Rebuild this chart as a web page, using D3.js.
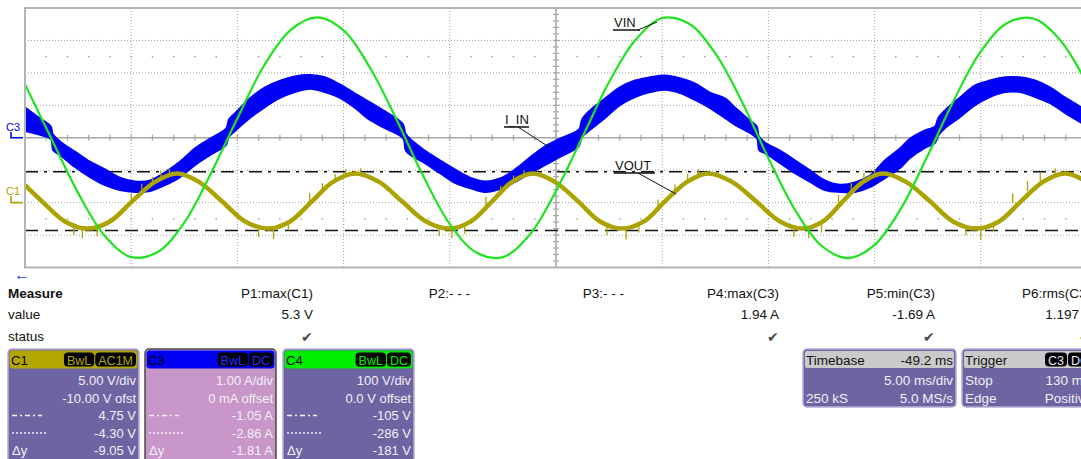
<!DOCTYPE html>
<html>
<head>
<meta charset="utf-8">
<script src="https://cdn.jsdelivr.net/npm/d3@7"></script>
<style>
body{margin:0;background:#fff;overflow:hidden}
text{font-family:"Liberation Sans",Arial,sans-serif}
</style>
</head>
<body>
<script>
// C4 = VIN (V), time in ms, 5 ms/div
var vinPts=[[-25,165],[-23.75,-4],[-22.5,-170],[-21.25,-302],[-20,-368],[-18.75,-352],[-17.5,-262],[-16.25,-110],
  [-15,60],[-13.75,222],[-12.5,332],[-11.25,371],[-10,331],[-8.75,215],[-7.5,55],[-6.25,-118],[-5,-266],
  [-3.75,-354],[-2.5,-368],[-1.25,-300],[0,-164],[1.25,3],[2.5,172],[3.75,302],[5,369],[6.25,352],[7.5,260],
  [8.75,112],[10,-63],[11.25,-222],[12.5,-333],[13.75,-371],[15,-330],[16.25,-217],[17.5,-55],[18.75,118],
  [20,266],[21.25,354],[22.5,367],[23.75,300],[25,166]];
// C3 = I_IN band: [t, upper A, lower A]
var iinPts=[[-25.00,0.94,0.20],[-24.29,0.60,0.08],[-23.78,0.35,-0.05],[-23.68,0.11,-0.39],[-23.35,-0.11,-0.54],
  [-22.65,-0.42,-0.91],[-21.94,-0.73,-1.22],[-21.23,-0.97,-1.47],[-20.53,-1.22,-1.62],[-19.82,-1.34,-1.68],
  [-19.11,-1.31,-1.65],[-18.41,-1.06,-1.47],[-17.70,-0.73,-1.22],[-17.00,-0.32,-0.85],[-16.29,-0.02,-0.54],
  [-15.54,0.29,-0.23],[-15.40,0.57,0.02],[-15.11,0.76,0.20],[-14.41,1.22,0.60],[-13.70,1.56,0.94],
  [-12.99,1.77,1.22],[-12.29,1.90,1.40],[-11.58,1.94,1.50],[-10.88,1.87,1.40],[-10.17,1.65,1.22],
  [-9.46,1.37,0.91],[-8.76,1.10,0.54],[-8.05,0.82,0.29],[-7.20,0.42,-0.02],[-7.06,0.11,-0.42],
  [-6.17,-0.39,-0.79],[-5.46,-0.69,-1.10],[-4.76,-0.97,-1.40],[-4.05,-1.22,-1.56],[-3.34,-1.34,-1.68],
  [-2.64,-1.25,-1.59],[-1.93,-0.97,-1.37],[-1.22,-0.60,-1.10],[-0.52,-0.26,-0.85],[0.19,-0.02,-0.60],
  [1.08,0.26,-0.26],[1.22,0.57,0.02],[1.60,0.85,0.23],[2.31,1.22,0.60],[3.01,1.56,1.00],[3.72,1.77,1.25],
  [4.43,1.87,1.40],[5.13,1.93,1.47],[5.84,1.84,1.37],[6.54,1.68,1.16],[7.25,1.40,0.91],[7.96,1.22,0.60],
  [8.43,0.94,0.39],[9.13,0.54,0.14],[9.46,0.35,-0.02],[9.56,0.05,-0.39],[9.84,-0.14,-0.48],[10.55,-0.39,-0.79],
  [11.25,-0.69,-1.10],[11.96,-1.00,-1.37],[12.66,-1.31,-1.62],[13.37,-1.44,-1.68],[14.08,-1.37,-1.68],
  [14.78,-1.16,-1.53],[15.49,-0.69,-1.25],[16.20,-0.32,-0.94],[16.67,-0.02,-0.63],[17.37,0.23,-0.32],
  [17.84,0.35,-0.17],[17.98,0.60,0.05],[18.31,0.85,0.29],[19.02,1.25,0.63],[19.73,1.62,1.00],
  [20.43,1.77,1.25],[21.14,1.87,1.40],[21.85,1.87,1.40],[22.55,1.77,1.25],[23.26,1.56,1.06],
  [23.96,1.25,0.76],[25.00,0.85,0.35]];
// C1 = VOUT (V)
var voutPts=[[-25.00,2.7],[-24.20,0.2],[-23.12,-2.9],[-22.08,-4.0],[-21.00,-2.9],[-19.96,0.2],[-18.88,3.2],
  [-17.84,4.5],[-16.81,3.2],[-15.73,0.2],[-14.64,-2.9],[-13.56,-4.0],[-12.52,-2.9],[-11.49,0.2],[-10.50,3.2],
  [-9.46,4.5],[-8.33,3.2],[-7.25,0.2],[-6.12,-2.9],[-4.99,-4.0],[-4.00,-2.9],[-3.01,0.2],[-2.07,3.2],
  [-1.08,4.5],[-0.05,3.2],[1.04,0.2],[2.07,-2.9],[3.11,-4.0],[4.14,-2.9],[5.13,0.2],[6.17,3.2],[7.16,4.5],
  [8.29,3.2],[9.42,0.2],[10.55,-2.9],[11.63,-4.0],[12.57,-2.9],[13.51,0.2],[14.45,3.2],[15.40,4.5],
  [16.48,3.2],[17.61,0.2],[18.69,-2.9],[19.82,-4.0],[20.86,-2.9],[21.89,0.2],[22.93,3.2],[23.96,4.5],[25.00,3.2]];
// noise spikes on C1: [t, top V, bottom V]
var voutSpikes=[[-22.7,-3.4,-5.0],[-22.3,-3.7,-5.5],[-21.6,-3.6,-5.2],[-20.0,1.4,0.0],[-19.5,2.9,1.3],[-19.0,4.0,2.6],[-18.6,4.9,3.5],[-18.2,5.2,4.0],
  [-14.0,-3.6,-5.3],[-13.3,-3.7,-5.6],[-12.6,-2.8,-4.3],[-11.6,1.5,0.0],[-11.0,3.0,1.5],[-10.4,4.4,3.1],[-9.9,5.2,4.0],[-9.2,5.3,4.2],
  [-5.5,-3.5,-5.2],[-4.9,-3.8,-5.5],[-4.3,-3.2,-4.8],[-3.3,0.9,-0.4],[-2.6,2.6,1.1],[-2.0,4.2,2.9],[-1.5,5.0,3.9],
  [2.4,-3.3,-5.0],[3.3,-3.7,-5.7],[3.9,-3.1,-4.6],[4.8,0.5,-0.9],[5.6,2.8,1.2],[6.2,4.4,3.0],[6.7,5.2,4.0],
  [11.2,-3.5,-5.3],[11.9,-3.6,-5.5],[12.5,-2.8,-4.6],[13.3,1.2,-0.3],[13.9,3.0,1.6],[14.5,4.6,3.2],[15.0,5.2,4.2],
  [19.3,-3.5,-5.0],[20.0,-3.8,-5.7],[20.6,-2.9,-4.4],[21.5,1.4,-0.1],[22.2,3.3,1.8],[22.8,4.6,3.3],[23.5,5.3,4.3]];
var c1Cursors=[4.75,-4.30];
var measNames=["P1:max(C1)","P2:- - -","P3:- - -","P4:max(C3)","P5:min(C3)","P6:rms(C3)"];
var measValues=["5.3 V","","","1.94 A","-1.69 A","1.197 A"];
var measStatus=[true,false,false,true,true,true];
var chanNames=["C1","C3","C4"];
var chanBadges=[["BwL","AC1M"],["BwL","DC"],["BwL","DC"]];
var chanRows=[["5.00 V/div","-10.00 V ofst","4.75 V","-4.30 V","-9.05 V"],
  ["1.00 A/div","0 mA offset","-1.05 A","-2.86 A","-1.81 A"],
  ["100 V/div","0.0 V offset","-105 V","-286 V","-181 V"]];
var timebase={delay:"-49.2 ms",div:"5.00 ms/div",pts:"250 kS",rate:"5.0 MS/s"};
var trigger={src:["C3","DC"],mode:"Stop",level:"130 mA",type:"Edge",slope:"Positive"};

var W=1081,H=459;
var svg=d3.select("body").append("svg").attr("width",W).attr("height",H);
var L=25,R=1087,T=8,B=267.5;
var x=d3.scaleLinear().domain([-25,25]).range([L,R]);
var yA=d3.scaleLinear().domain([-4,4]).range([B,T]);      // C3 1 A/div
var yV4=d3.scaleLinear().domain([-400,400]).range([B,T]); // C4 100 V/div
var yV1=d3.scaleLinear().domain([-10,30]).range([B,T]);   // C1 5 V/div, -10 V ofst

/////////////////////////////////////////////// grid
var grid=svg.append("g");
d3.range(-20,25,5).forEach(function(t){
  grid.append("line").attr("x1",x(t)).attr("x2",x(t)).attr("y1",T).attr("y2",B)
    .attr("stroke",t==0?"#a6a6a6":"#a0a0a0").attr("stroke-width",t==0?1.5:1)
    .attr("stroke-dasharray",t==0?null:"1,2");
});
d3.range(-3,4,1).forEach(function(a){
  grid.append("line").attr("x1",L).attr("x2",R).attr("y1",yA(a)).attr("y2",yA(a))
    .attr("stroke",a==0?"#a6a6a6":"#a0a0a0").attr("stroke-width",a==0?1.5:1)
    .attr("stroke-dasharray",a==0?null:"1,2");
});
grid.selectAll(".tx").data(d3.range(-24,25,1)).enter().append("line")
  .attr("x1",function(d){return x(d)}).attr("x2",function(d){return x(d)})
  .attr("y1",yA(0)-3).attr("y2",yA(0)+3).attr("stroke","#a6a6a6").attr("stroke-width",1.2);
grid.selectAll(".ty").data(d3.range(-3.8,4,0.2)).enter().append("line")
  .attr("y1",function(d){return yA(d)}).attr("y2",function(d){return yA(d)})
  .attr("x1",x(0)-3).attr("x2",x(0)+3).attr("stroke","#a6a6a6").attr("stroke-width",1.2);
[2.5,-2.5].forEach(function(a){
  grid.selectAll(null).data(d3.range(-24,25,1)).enter().append("rect")
    .attr("x",function(d){return x(d)-0.7}).attr("y",yA(a)-0.7).attr("width",1.4).attr("height",1.4)
    .attr("fill","#9a9a9a");
});
svg.append("rect").attr("x",L).attr("y",T).attr("width",R-L).attr("height",B-T)
  .attr("fill","none").attr("stroke","#b4b4b4").attr("stroke-width",2);

svg.append("clipPath").attr("id","clip").append("rect")
  .attr("x",L+1).attr("y",T+1).attr("width",R-L-2).attr("height",B-T-2);
var traces=svg.append("g").attr("clip-path","url(#clip)");

/////////////////////////////////////////////// cursors
traces.append("line").attr("x1",L).attr("x2",R).attr("y1",yV1(c1Cursors[0])).attr("y2",yV1(c1Cursors[0]))
  .attr("stroke","#111").attr("stroke-width",1.6).attr("stroke-dasharray","13,6,3,6");
traces.append("line").attr("x1",L).attr("x2",R).attr("y1",yV1(c1Cursors[1])).attr("y2",yV1(c1Cursors[1]))
  .attr("stroke","#111").attr("stroke-width",1.6).attr("stroke-dasharray","13,7");

/////////////////////////////////////////////// traces
var band=d3.area().curve(d3.curveCatmullRom.alpha(0.5))
  .x(function(d){return x(d[0])}).y0(function(d){return yA(d[2])}).y1(function(d){return yA(d[1])});
traces.append("path").attr("d",band(iinPts)).attr("fill","#0000f4")
  .attr("stroke","#0000f4").attr("stroke-width",1.5).attr("stroke-linejoin","round");

var line1=d3.line().curve(d3.curveCatmullRom.alpha(0.5))
  .x(function(d){return x(d[0])}).y(function(d){return yV1(d[1])});
traces.append("path").attr("d",line1(voutPts)).attr("fill","none")
  .attr("stroke","#aba300").attr("stroke-width",4.5);
traces.selectAll(".sp").data(voutSpikes).enter().append("line")
  .attr("x1",function(d){return x(d[0])}).attr("x2",function(d){return x(d[0])})
  .attr("y1",function(d){return yV1(d[1])}).attr("y2",function(d){return yV1(d[2])})
  .attr("stroke","#aba300").attr("stroke-width",1.3);

var line4=d3.line().curve(d3.curveCatmullRom.alpha(0.5))
  .x(function(d){return x(d[0])}).y(function(d){return yV4(d[1])});
traces.append("path").attr("d",line4(vinPts)).attr("fill","none")
  .attr("stroke","#1fe31f").attr("stroke-width",2.2);

/////////////////////////////////////////////// labels on the screen
function callout(label,tx,ty,w,lx,ly){
  var g=svg.append("g");
  g.append("text").attr("x",tx).attr("y",ty).attr("font-size",13).attr("fill","#111").text(label);
  g.append("line").attr("x1",tx-1).attr("x2",tx+w).attr("y1",ty+3).attr("y2",ty+3)
    .attr("stroke","#111").attr("stroke-width",1.5);
  g.append("line").attr("x1",lx[0]).attr("y1",lx[1]).attr("x2",ly[0]).attr("y2",ly[1])
    .attr("stroke","#111").attr("stroke-width",1);
}
callout("VIN",614,27,26,[638,30],[657,22]);
callout("I_IN",505,124,24,[518,127],[549,147]);
callout("VOUT",615,170,40,[638,173],[676,194]);

svg.append("text").attr("x",6).attr("y",131).attr("font-size",11).attr("fill","#0000f4").text("C3");
svg.append("path").attr("d","M11,132V"+yA(0)+"H23").attr("fill","none").attr("stroke","#0000f4").attr("stroke-width",1.6);
svg.append("text").attr("x",6).attr("y",195).attr("font-size",11).attr("fill","#aba300").text("C1");
svg.append("path").attr("d","M11,196V"+yV1(0)+"H23").attr("fill","none").attr("stroke","#aba300").attr("stroke-width",1.6);
svg.append("text").attr("x",14).attr("y",280).attr("font-size",16).attr("font-weight","bold").attr("fill","#1e3cf0").text("\u2190");

/////////////////////////////////////////////// measure table
var meas=svg.append("g").attr("font-size",13.5).attr("fill","#111");
meas.append("text").attr("x",8).attr("y",298).attr("font-weight","bold").text("Measure");
meas.append("text").attr("x",8).attr("y",319).text("value");
meas.append("text").attr("x",8).attr("y",341).text("status");
var colR=[313,470,624,779,935,1091];
measNames.forEach(function(n,i){
  meas.append("text").attr("x",colR[i]).attr("y",298).attr("text-anchor","end").text(n);
  meas.append("text").attr("x",colR[i]).attr("y",319).attr("text-anchor","end").text(measValues[i]);
  if(measStatus[i]){
    meas.append("text").attr("x",colR[i]).attr("y",342).attr("text-anchor","end")
      .attr("font-family","DejaVu Sans").attr("font-size",14).attr("fill","#4a4a4a").text("\u2714");
  }
});

/////////////////////////////////////////////// channel boxes
var boxX=[8,145,283],boxW=131;
var headCol=["#b2a700","#0000f4","#00ee00"];
var bodyCol=["#6f64a2","#c896c8","#6f64a2"];
var badgeTxt=["#b2a700","#2a2aff","#00ee00"];
chanNames.forEach(function(name,i){
  var g=svg.append("g").attr("font-size",13);
  var bx=boxX[i];
  g.append("rect").attr("x",bx).attr("y",349).attr("width",boxW).attr("height",120).attr("rx",4)
    .attr("fill",bodyCol[i]).attr("stroke",i==1?"#4a4a4a":"#b5add8").attr("stroke-width",1.5);
  g.append("rect").attr("x",bx+1.5).attr("y",350.5).attr("width",boxW-3).attr("height",18).attr("rx",3)
    .attr("fill",headCol[i]);
  g.append("text").attr("x",bx+3).attr("y",365).attr("fill","#000").text(name);
  var right=bx+boxW-3;
  chanBadges[i].slice().reverse().forEach(function(b){
    var t=g.append("text").attr("y",364.5).attr("font-size",12.5).attr("fill",badgeTxt[i]).text(b);
    var w=t.node().getComputedTextLength()+6;
    g.insert("rect","text:last-child").attr("x",right-w).attr("y",352.5).attr("width",w).attr("height",14)
      .attr("rx",4).attr("fill","#000");
    t.attr("x",right-w+3);
    t.raise();
    right-=w+1;
  });
  var ys=[385,402.5,420,437.5,455];
  chanRows[i].forEach(function(r,j){
    g.append("text").attr("x",bx+boxW-3).attr("y",ys[j]).attr("text-anchor","end")
      .attr("fill","#f2eef6").text(r);
  });
  g.append("line").attr("x1",bx+4).attr("x2",bx+34).attr("y1",415.5).attr("y2",415.5)
    .attr("stroke","#f2eef6").attr("stroke-width",1.3).attr("stroke-dasharray","5,3,2,3");
  g.append("line").attr("x1",bx+4).attr("x2",bx+38).attr("y1",433).attr("y2",433)
    .attr("stroke","#f2eef6").attr("stroke-width",1.3).attr("stroke-dasharray","2,2");
  g.append("text").attr("x",bx+4).attr("y",455).attr("fill","#f2eef6").text("\u0394y");
});

/////////////////////////////////////////////// timebase & trigger
function infoBox(bx,title,titleRight,rows,rx){
  var g=svg.append("g").attr("font-size",13.5);
  g.append("rect").attr("x",bx).attr("y",349).attr("width",153).attr("height",58).attr("rx",4)
    .attr("fill","#6f64a2").attr("stroke","#b5add8").attr("stroke-width",1.5);
  g.append("rect").attr("x",bx+2).attr("y",351).attr("width",149).attr("height",17).attr("rx",2)
    .attr("fill","#cacaca");
  g.append("text").attr("x",bx+3).attr("y",365).attr("fill","#111").text(title);
  if(titleRight) g.append("text").attr("x",bx+rx).attr("y",365).attr("text-anchor","end").attr("fill","#111").text(titleRight);
  rows.forEach(function(r,j){
    var yy=385+j*17.5;
    if(r[0]) g.append("text").attr("x",bx+3).attr("y",yy).attr("fill","#f2eef6").text(r[0]);
    g.append("text").attr("x",bx+rx).attr("y",yy).attr("text-anchor","end").attr("fill","#f2eef6").text(r[1]);
  });
  return g;
}
infoBox(803,"Timebase",timebase.delay,[["",timebase.div],[timebase.pts,timebase.rate]],150);
var tg=infoBox(962,"Trigger",null,[[trigger.mode,trigger.level],[trigger.type,trigger.slope]],130);
var bxx=1045;
trigger.src.forEach(function(s){
  var t=tg.append("text").attr("y",364.5).attr("font-size",12.5).attr("fill","#e8e8ff").text(s);
  var w=t.node().getComputedTextLength()+6;
  tg.insert("rect","text:last-child").attr("x",bxx).attr("y",352.5).attr("width",w).attr("height",14)
    .attr("rx",4).attr("fill","#000");
  t.attr("x",bxx+3).raise();
  bxx+=w+1;
});
</script>
</body>
</html>
